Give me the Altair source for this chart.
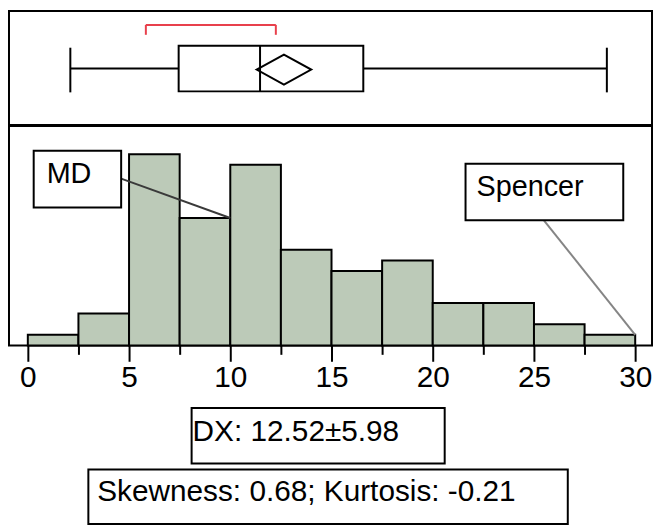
import altair as alt
import pandas as pd

# ---- data ----
bin_starts = [0, 2.5, 5, 7.5, 10, 12.5, 15, 17.5, 20, 22.5, 25, 27.5]
bin_width = 2.5
counts = [1, 3, 18, 12, 17, 9, 7, 8, 4, 4, 2, 1]

box_stats = {"low": 2.1, "q1": 7.45, "median": 11.47, "q3": 16.57, "high": 28.6, "mean": 12.65}
bracket = {"lo": 5.83, "hi": 12.25}

tick_values = [0, 2.5, 5, 7.5, 10, 12.5, 15, 17.5, 20, 22.5, 25, 27.5, 30]

md_label = "MD"
spencer_label = "Spencer"
dx_text = "DX: 12.52\u00b15.98"
stats_text = "Skewness: 0.68; Kurtosis: -0.21"

FONT = "Liberation Sans"
W = 648
TOP_H = 115
HIST_H = 221
BAR_FILL = "#bccab8"

x_scale = alt.Scale(domain=[-0.93, 30.83], nice=False, zero=False)
y_scale = alt.Scale(domain=[0, 20.65], nice=False, zero=False)

# ---- top panel: box plot ----
stats_df = pd.DataFrame([box_stats])
br_df = pd.DataFrame([bracket])
base_top = alt.Chart(stats_df)

def X(f):
    return alt.X(f"{f}:Q", scale=x_scale, axis=None)

whisk_l = base_top.mark_rule(color="black", strokeWidth=2).encode(x=X("low"), x2="q1:Q", y=alt.value(58))
whisk_r = base_top.mark_rule(color="black", strokeWidth=2).encode(x=X("q3"), x2="high:Q", y=alt.value(58))
cap_l = base_top.mark_rule(color="black", strokeWidth=2).encode(x=X("low"), y=alt.value(37), y2=alt.value(82))
cap_r = base_top.mark_rule(color="black", strokeWidth=2).encode(x=X("high"), y=alt.value(37), y2=alt.value(82))
box = base_top.mark_rect(fill="white", stroke="black", strokeWidth=2).encode(
    x=X("q1"), x2="q3:Q", y=alt.value(35), y2=alt.value(81))
med = base_top.mark_rule(color="black", strokeWidth=2).encode(x=X("median"), y=alt.value(35), y2=alt.value(81))
diamond = base_top.mark_point(
    shape="M -1 0 L 0 -0.55 L 1 0 L 0 0.55 Z", size=3025, filled=False,
    stroke="black", strokeWidth=2, opacity=1
).encode(x=X("mean"), y=alt.value(59))

base_br = alt.Chart(br_df)
RED = "#e8404c"
br_h = base_br.mark_rule(color=RED, strokeWidth=2).encode(
    x=alt.X("lo:Q", scale=x_scale, axis=None), x2="hi:Q", y=alt.value(14))
br_l = base_br.mark_rule(color=RED, strokeWidth=2).encode(
    x=alt.X("lo:Q", scale=x_scale, axis=None), y=alt.value(14), y2=alt.value(24))
br_r = base_br.mark_rule(color=RED, strokeWidth=2).encode(
    x=alt.X("hi:Q", scale=x_scale, axis=None), y=alt.value(14), y2=alt.value(24))

top = alt.layer(box, whisk_l, whisk_r, cap_l, cap_r, med, diamond, br_h, br_l, br_r).properties(
    width=W, height=TOP_H)

# ---- histogram panel ----
hist_df = pd.DataFrame({
    "start": bin_starts,
    "end": [s + bin_width for s in bin_starts],
    "count": counts,
})

x_axis = alt.Axis(
    values=tick_values, title=None, grid=False, domain=False,
    tickColor="black", tickWidth=2,
    tickSize={"condition": {"test": "datum.value % 5 === 0", "value": 16}, "value": 9},
    labelExpr="datum.value % 5 === 0 ? datum.label : ''",
    labelFont=FONT, labelFontSize=30, labelColor="black",
    labelPadding=1, labelOverlap=False, labelFlush=False,
)

bars = alt.Chart(hist_df).mark_rect(fill=BAR_FILL, stroke="black", strokeWidth=2).encode(
    x=alt.X("start:Q", scale=x_scale, axis=x_axis),
    x2="end:Q",
    y=alt.Y("count:Q", scale=y_scale, axis=None),
    y2=alt.datum(0),
)

dummy = alt.Chart(pd.DataFrame({"k": [0]}))

def box_rect(x0, x1, y0, y1):
    return dummy.mark_rect(fill="white", stroke="black", strokeWidth=2).encode(
        x=alt.datum(x0), x2=alt.datum(x1), y=alt.datum(y0), y2=alt.datum(y1))

def box_rect_px(x0, x1, y0, y1):
    return dummy.mark_rect(fill="white", stroke="black", strokeWidth=2).encode(
        x=alt.datum(x0), x2=alt.datum(x1), y=alt.value(y0), y2=alt.value(y1))

md_line = dummy.mark_rule(color="#3a3a3a", strokeWidth=2).encode(
    x=alt.datum(4.61), y=alt.datum(15.7), x2=alt.datum(10), y2=alt.datum(counts[3]))
sp_line = dummy.mark_rule(color="#858585", strokeWidth=2).encode(
    x=alt.datum(25.49), y=alt.datum(11.78), x2=alt.datum(30), y2=alt.datum(counts[11]))

md_box = box_rect(0.29, 4.61, 18.32, 12.99)
md_txt = dummy.mark_text(align="left", baseline="alphabetic", font=FONT, fontSize=29, color="black").encode(
    x=alt.datum(0.93), y=alt.datum(15.33), text=alt.value(md_label))

sp_box = box_rect(21.62, 29.41, 17.1, 11.78)
sp_txt = dummy.mark_text(align="left", baseline="alphabetic", font=FONT, fontSize=29, color="black").encode(
    x=alt.datum(22.16), y=alt.datum(14.11), text=alt.value(spencer_label))

dx_box = box_rect_px(8.09, 20.59, 284, 340)
dx_txt = dummy.mark_text(align="left", baseline="alphabetic", font=FONT, fontSize=30, color="black").encode(
    x=alt.datum(8.14), y=alt.value(317), text=alt.value(dx_text))

st_box = box_rect_px(2.99, 26.67, 346, 401)
st_txt = dummy.mark_text(align="left", baseline="alphabetic", font=FONT, fontSize=30, color="black").encode(
    x=alt.datum(3.43), y=alt.value(378), text=alt.value(stats_text))

hist = alt.layer(bars, md_line, sp_line, md_box, md_txt, sp_box, sp_txt,
                 dx_box, dx_txt, st_box, st_txt).properties(width=W, height=HIST_H)

chart = alt.vconcat(top, hist, spacing=-2).properties(padding=0, background="white").configure_view(
    stroke="black", strokeWidth=2
)

chart.save("out.html", embed_options={"renderer": "svg", "actions": False})
